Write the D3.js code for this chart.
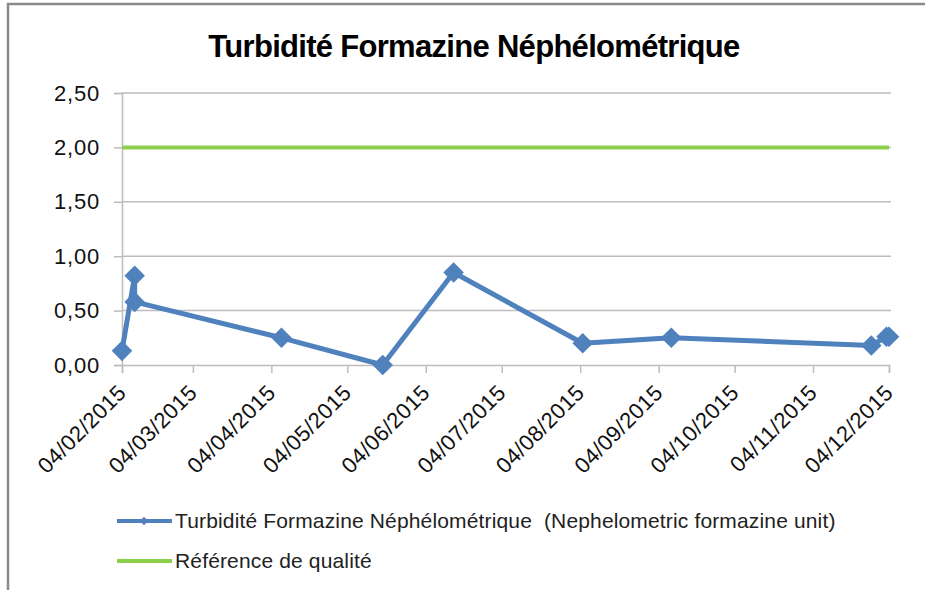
<!DOCTYPE html>
<html>
<head>
<meta charset="utf-8">
<script src="https://cdn.jsdelivr.net/npm/d3@7"></script>
<style>
  body { margin: 0; background: #fff; }
  svg { display: block; font-family: "Liberation Sans", Arial, sans-serif; }
</style>
</head>
<body>
<div id="chart"></div>
<script>
// sample dates and turbidity readings (NFU)
const sampleDates = ["2015-02-04", "2015-02-09", "2015-02-09", "2015-04-08", "2015-05-18",
  "2015-06-15", "2015-08-05", "2015-09-09", "2015-11-27", "2015-12-03", "2015-12-04"];
const turbidity = [0.13, 0.82, 0.58, 0.25, 0.00, 0.85, 0.20, 0.25, 0.18, 0.26, 0.26];

// quality reference
const refDates = ["2015-02-04", "2015-12-04"];
const refValues = [2.0, 2.0];

const yTicks = [0, 0.5, 1, 1.5, 2, 2.5];
const xTickDates = ["2015-02-04", "2015-03-04", "2015-04-04", "2015-05-04", "2015-06-04",
  "2015-07-04", "2015-08-04", "2015-09-04", "2015-10-04", "2015-11-04", "2015-12-04"];

const seriesNames = ["Turbidité Formazine Néphélométrique  (Nephelometric formazine unit)", "Référence de qualité"];
const chartTitle = "Turbidité Formazine Néphélométrique";

function drawChart() {
  const width = 925, height = 590;
  const margin = { left: 122, right: 36, top: 93, bottom: 225 };
  const blue = "#4f81bd", green = "#8dcf4c", grid = "#bdbdbd";
  const parse = d3.utcParse("%Y-%m-%d");
  const fmtDate = d3.utcFormat("%d/%m/%Y");
  const fmtNum = v => d3.format(".2f")(v).replace(".", ",");

  const svg = d3.select('#chart')
    .append('svg')
    .attr('width', width)
    .attr('height', height);

  // outer frame
  svg.append('rect')
    .attr('x', 8).attr('y', 4)
    .attr('width', 940).attr('height', 620)
    .attr('fill', '#fff')
    .attr('stroke', '#8a8a8a')
    .attr('stroke-width', 2.5);

  const x = d3.scaleUtc()
    .domain([parse("2015-02-04"), parse("2015-12-04")])
    .range([margin.left, width - margin.right]);

  const y = d3.scaleLinear()
    .domain([0, 2.5])
    .range([height - margin.bottom, margin.top]);

  svg.append('text')
    .attr('x', 474).attr('y', 57)
    .attr('text-anchor', 'middle')
    .style('font-size', '31px')
    .style('font-weight', 'bold')
    .style('letter-spacing', '-0.7px')
    .text(chartTitle);

  // horizontal gridlines
  svg.append('g')
    .selectAll('line')
    .data(yTicks.slice(1))
    .enter()
    .append('line')
    .attr('x1', margin.left).attr('x2', width - margin.right + 2)
    .attr('y1', d => y(d)).attr('y2', d => y(d))
    .attr('stroke', grid).attr('stroke-width', 1.5);

  // y axis
  const yAxis = svg.append('g')
    .attr('transform', `translate(${margin.left},0)`)
    .call(d3.axisLeft(y).tickValues(yTicks).tickFormat(fmtNum).tickSize(8).tickPadding(14));
  yAxis.select('.domain').attr('stroke', grid).attr('stroke-width', 1.5);
  yAxis.selectAll('.tick line').attr('stroke', grid).attr('stroke-width', 1.5);
  yAxis.selectAll('text')
    .style('font-size', '22px')
    .style('letter-spacing', '0.8px')
    .attr('fill', '#111');

  // x axis
  const xAxis = svg.append('g')
    .attr('transform', `translate(0,${y(0)})`)
    .call(d3.axisBottom(x).tickValues(xTickDates.map(parse)).tickFormat(fmtDate).tickSize(8));
  xAxis.select('.domain').attr('stroke', grid).attr('stroke-width', 1.5);
  xAxis.selectAll('.tick line').attr('stroke', grid).attr('stroke-width', 1.5);
  xAxis.selectAll('text')
    .style('font-size', '22px')
    .style('letter-spacing', '0.4px')
    .attr('fill', '#111')
    .attr('text-anchor', 'end')
    .attr('x', 0).attr('y', 0).attr('dy', 0)
    .attr('transform', 'translate(5,29) rotate(-45)');

  // reference line
  const refData = refDates.map((d, i) => ({ date: parse(d), value: refValues[i] }));
  svg.append('path')
    .datum(refData)
    .attr('fill', 'none')
    .attr('stroke', green)
    .attr('stroke-width', 4)
    .attr('d', d3.line().x(d => x(d.date)).y(d => y(d.value)));

  // turbidity series
  const data = sampleDates.map((d, i) => ({ date: parse(d), value: turbidity[i] }));
  svg.append('path')
    .datum(data)
    .attr('fill', 'none')
    .attr('stroke', blue)
    .attr('stroke-width', 5)
    .attr('stroke-linejoin', 'round')
    .attr('d', d3.line().x(d => x(d.date)).y(d => y(d.value)));

  const diamond = d3.symbol().type(d3.symbolDiamond2).size(270);
  svg.append('g')
    .selectAll('path')
    .data(data)
    .enter()
    .append('path')
    .attr('transform', d => `translate(${x(d.date)},${y(d.value)})`)
    .attr('d', diamond)
    .attr('fill', blue);

  // legend
  const legend = svg.append('g')
    .selectAll('g')
    .data(seriesNames)
    .enter()
    .append('g')
    .attr('transform', (d, i) => `translate(117,${521 + i * 40})`);

  legend.append('line')
    .attr('x1', 0).attr('x2', 55)
    .attr('stroke', (d, i) => i === 0 ? blue : green)
    .attr('stroke-width', 4);

  legend.filter((d, i) => i === 0)
    .append('path')
    .attr('transform', 'translate(27,0)')
    .attr('d', d3.symbol().type(d3.symbolDiamond2).size(45))
    .attr('fill', blue);

  legend.append('text')
    .attr('x', 58).attr('dy', '0.35em')
    .style('font-size', '21px')
    .style('letter-spacing', '0.15px')
    .style('white-space', 'pre')
    .attr('fill', '#222')
    .text(d => d);
}

window.onload = function () {
  drawChart();
};
</script>
</body>
</html>
